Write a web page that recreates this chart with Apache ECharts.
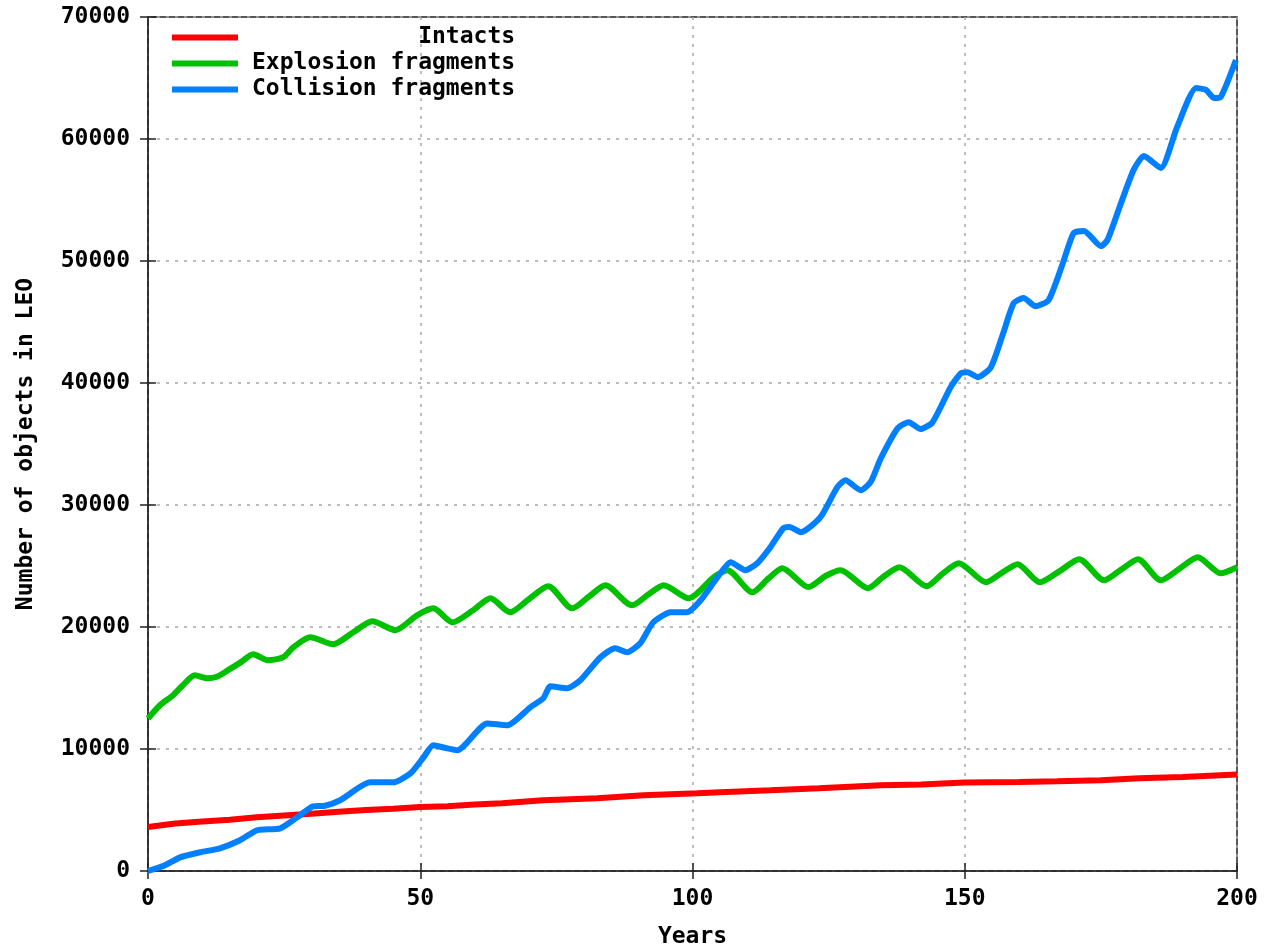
<!DOCTYPE html>
<html>
<head>
<meta charset="utf-8">
<script src="https://cdn.jsdelivr.net/npm/echarts@6/dist/echarts.min.js"></script>
<style>html,body{margin:0;padding:0;background:#fff}#c{width:1265px;height:947px}</style>
</head>
<body>
<div id="c"></div>
<script>
const seriesNames = ['Intacts', 'Explosion fragments', 'Collision fragments'];
const xTicks = [0, 50, 100, 150, 200];
const yTicks = [0, 10000, 20000, 30000, 40000, 50000, 60000, 70000];

const intactsYears  = [0, 5, 10, 15, 20, 25, 30, 35, 40, 45, 50, 55, 60, 65, 72.6, 82.5, 91, 100.9, 105.1, 114.3, 123.2, 134.6, 142, 150, 160, 167, 175, 182, 190, 200];
const intactsValues = [3600, 3900, 4050, 4200, 4400, 4550, 4700, 4850, 5000, 5100, 5250, 5300, 5450, 5550, 5800, 5960, 6210, 6370, 6460, 6620, 6790, 7030, 7100, 7250, 7300, 7350, 7440, 7600, 7700, 7900];

const explosionYears  = [0, 2.2, 4.6, 6.4, 8.6, 10.8, 12.5, 14.7, 17, 19.3, 22, 24.8, 26.7, 29.8, 34, 37.7, 41.2, 45.4, 49.4, 52.4, 55.9, 59.7, 62.9, 66.5, 70, 73.5, 77.9, 81, 84, 88.9, 92, 94.7, 99.3, 103.9, 106.4, 111, 114, 116.5, 121.3, 124.5, 127.2, 132.2, 135, 138, 143, 146, 148.9, 153.9, 157, 159.7, 163.8, 167.5, 171, 175.6, 179, 181.8, 186, 189.5, 192.8, 197, 200];
const explosionValues = [12500, 13590, 14410, 15230, 16050, 15800, 15900, 16460, 17100, 17770, 17280, 17520, 18340, 19160, 18590, 19570, 20470, 19740, 20960, 21530, 20380, 21370, 22360, 21210, 22300, 23340, 21530, 22500, 23420, 21780, 22700, 23420, 22360, 24080, 24660, 22850, 24000, 24820, 23270, 24200, 24660, 23180, 24100, 24900, 23340, 24400, 25230, 23670, 24500, 25150, 23670, 24600, 25560, 23830, 24800, 25560, 23830, 24800, 25720, 24400, 24900];

const collisionYears  = [0, 3, 5.9, 9.6, 13.2, 16.9, 20, 24.3, 27.4, 30.3, 32.5, 35.3, 40.8, 45, 48.2, 50.6, 52.4, 54.5, 56.8, 62.3, 66, 70.2, 72.6, 73.9, 77, 79.4, 83.1, 85.8, 88, 90.4, 92.8, 96, 99, 101.5, 104.6, 107, 109.7, 111.9, 114.3, 116.7, 117.8, 119.9, 123.5, 126.6, 128.1, 130.9, 132.7, 134.6, 137.7, 139.7, 141.9, 144.1, 147.4, 149.3, 150.5, 152.4, 154.8, 157, 159, 160.8, 163, 165.4, 168, 170, 171.9, 175, 176.2, 178.5, 181, 182.9, 186, 189, 192.5, 194.3, 195.8, 197, 199.8];
const collisionValues = [0, 450, 1120, 1540, 1860, 2520, 3340, 3500, 4400, 5300, 5350, 5800, 7270, 7270, 8000, 9320, 10300, 10100, 9900, 12100, 11940, 13420, 14160, 15140, 14980, 15630, 17520, 18260, 17930, 18670, 20390, 21210, 21210, 22190, 24080, 25310, 24660, 25230, 26540, 28100, 28200, 27770, 29000, 31460, 32030, 31210, 31870, 33840, 36300, 36790, 36220, 36790, 39660, 40800, 40890, 40480, 41300, 44000, 46550, 46960, 46300, 46800, 49800, 52290, 52460, 51220, 51710, 54500, 57450, 58600, 57620, 60980, 64180, 64020, 63360, 63440, 66480];

function pairs(xs, ys) { return xs.map((x, i) => [x, ys[i]]); }

const FONT = 'DejaVu Sans Mono';
const labelStyle = { fontFamily: FONT, fontWeight: 'bold', fontSize: 23, color: '#000' };
const gridLine = { show: true, lineStyle: { color: '#a8a8a8', type: [3, 6], width: 1.5 } };
const tickStyle = { show: true, inside: true, length: 8, lineStyle: { color: '#222', width: 1.5 } };

const chart = echarts.init(document.getElementById('c'), null, { renderer: 'canvas' });
chart.setOption({
  backgroundColor: '#fff',
  animation: false,
  grid: { left: 148, right: 28, top: 17, bottom: 76, containLabel: false, outerBoundsMode: 'none', show: true, borderColor: '#222', borderWidth: 1.5, backgroundColor: 'transparent' },
  legend: {
    left: 167, top: 21, orient: 'vertical', itemGap: 3, itemWidth: 66, itemHeight: 6, icon: 'rect',
    textStyle: Object.assign({}, labelStyle, { lineHeight: 23, padding: [0, 0, 0, 9] }),
    formatter: function (n) { const w = 19; return ' '.repeat(w - n.length) + n; },
    data: seriesNames
  },
  xAxis: [{
    type: 'value', min: xTicks[0], max: xTicks[xTicks.length - 1], interval: 50,
    name: 'Years', nameLocation: 'middle', nameGap: 55, nameTextStyle: labelStyle,
    axisLine: { show: true, lineStyle: { color: '#222', width: 1.5 } },
    axisTick: tickStyle,
    axisLabel: Object.assign({ margin: 17 }, labelStyle),
    splitLine: gridLine
  }, {
    type: 'value', position: 'top', min: xTicks[0], max: xTicks[xTicks.length - 1], interval: 50,
    axisLine: { show: false }, axisLabel: { show: false }, splitLine: { show: false },
    axisTick: tickStyle
  }],
  yAxis: [{
    type: 'value', min: yTicks[0], max: yTicks[yTicks.length - 1], interval: 10000,
    name: 'Number of objects in LEO', nameLocation: 'middle', nameGap: 110, nameRotate: 90, nameTextStyle: labelStyle,
    axisLine: { show: true, lineStyle: { color: '#222', width: 1.5 } },
    axisTick: tickStyle,
    axisLabel: Object.assign({ margin: 18, formatter: function (v) { return String(v); } }, labelStyle),
    splitLine: gridLine
  }, {
    type: 'value', position: 'right', min: yTicks[0], max: yTicks[yTicks.length - 1], interval: 10000,
    axisLine: { show: false }, axisLabel: { show: false }, splitLine: { show: false },
    axisTick: tickStyle
  }],
  series: [
    { name: seriesNames[0], type: 'line', showSymbol: false, symbol: 'none', color: '#ff0000', lineStyle: { width: 6 }, data: pairs(intactsYears, intactsValues) },
    { name: seriesNames[1], type: 'line', showSymbol: false, symbol: 'none', smooth: 0.25, color: '#00c000', lineStyle: { width: 6 }, data: pairs(explosionYears, explosionValues) },
    { name: seriesNames[2], type: 'line', showSymbol: false, symbol: 'none', smooth: 0.2, color: '#0080ff', lineStyle: { width: 6 }, data: pairs(collisionYears, collisionValues) }
  ]
});
</script>
</body>
</html>
